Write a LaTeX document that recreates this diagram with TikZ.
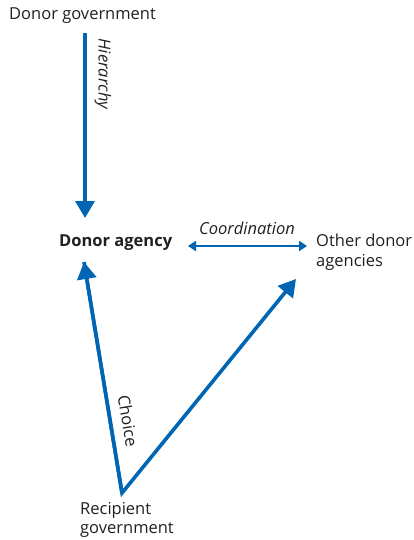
\documentclass[tikz,border=0pt]{standalone}
\usepackage{fontspec}
\setmainfont{Open Sans}
\usetikzlibrary{arrows.meta}
\definecolor{arrowblue}{RGB}{0,102,179}
\definecolor{txt}{RGB}{35,31,32}
\begin{document}
\begin{tikzpicture}[x=1pt,y=-1pt,
  lbl/.style={inner sep=0pt,text=txt,font=\fontsize{16.5}{19.5}\selectfont},
  ital/.style={lbl,font=\fontsize{16.5}{19.5}\selectfont\itshape},
  bigarrow/.style={draw=arrowblue,line width=3.6pt,-{Triangle[length=17pt,width=19pt]}},
  smallarrow/.style={draw=arrowblue,line width=1.8pt,{Triangle[length=8pt,width=10pt]}-{Triangle[length=8pt,width=10pt]}}]
\useasboundingbox (0,0) rectangle (414,540);
\node[lbl,anchor=west] (dg) at (9,16) {Donor government};
\node[lbl,anchor=west,font=\fontsize{16.5}{19.5}\selectfont\bfseries] (da) at (59,243) {Donor agency};
\node[lbl,anchor=north west,align=left] (oda) at (316,234) {Other donor\\agencies};
\node[lbl,anchor=north west,align=left] (rg) at (80,502) {Recipient\\government};
\coordinate (h1) at (85,33);
\coordinate (h2) at (85,218);
\coordinate (c1) at (188,246);
\coordinate (c2) at (307,246);
\coordinate (rv) at (122,493);
\coordinate (t1) at (84,262);
\coordinate (t2) at (296,279);
\draw[bigarrow] (h1) -- (h2);
\draw[smallarrow] (c1) -- (c2);
\draw[bigarrow,line join=miter] (t1) -- (rv) -- (t2);
\draw[bigarrow] (rv) -- (t1);
\node[ital,rotate=-90] (hl) at (103,74) {Hierarchy};
\node[ital] (cl) at (247,228) {Coordination};
\node[lbl,rotate=-80.7] (chl) at (128,421) {Choice};
\end{tikzpicture}
\end{document}
